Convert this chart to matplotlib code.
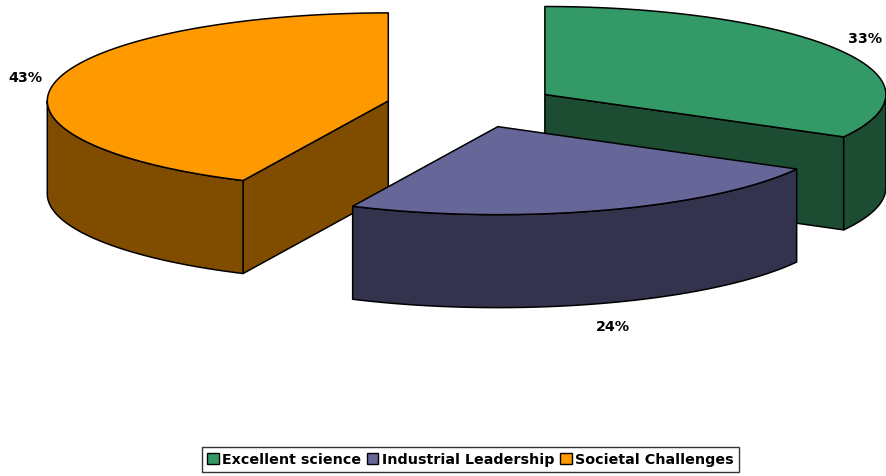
import numpy as np
import matplotlib
matplotlib.use("Agg")
import matplotlib.pyplot as plt
from matplotlib.patches import Polygon, Patch

# Podział budżetu (%)
categories = ["Excellent science", "Industrial Leadership", "Societal Challenges"]
shares = [33, 24, 43]
top_colors = ["#339966", "#666699", "#FF9900"]
side_colors = ["#1C4D33", "#33334D", "#804D00"]

# Geometria "3D" tortu w pikselach
W, H = 887, 477
cx, cy = 471.5, 106.7
rx, ry = 341.0, 88.0
depth = 93.0
explode = 0.25


def pt(x0, y0, ang, r=1.0):
    a = np.radians(ang)
    return x0 + r * rx * np.cos(a), y0 - r * ry * np.sin(a)


fig = plt.figure(figsize=(W / 100, H / 100), dpi=100)
ax = fig.add_axes([0, 0, 1, 1])
ax.set_xlim(0, W)
ax.set_ylim(H, 0)
ax.axis("off")

# kąty wycinków: start na 90 stopniach, zgodnie z ruchem wskazówek zegara
slices = []
start = 90.0
for i, s in enumerate(shares):
    span = s / sum(shares) * 360.0
    a1, a0 = start, start - span
    mid = (a0 + a1) / 2
    ox, oy = pt(cx, cy, mid, explode)
    slices.append((i, a0, a1, mid, ox, oy))
    start = a0

# najpierw tylne wycinki, potem przednie
order = sorted(slices, key=lambda t: -np.sin(np.radians(t[3])))

lw = 1.1
for i, a0, a1, mid, ox, oy in order:
    # ściany promieniowe widoczne od przodu
    for ang, nrm in ((a0, a0 - 90), (a1, a1 + 90)):
        if np.sin(np.radians(nrm)) < -1e-6:
            ex, ey = pt(ox, oy, ang)
            face = [(ox, oy), (ex, ey), (ex, ey + depth), (ox, oy + depth)]
            ax.add_patch(Polygon(face, closed=True, fc=side_colors[i],
                                 ec="black", lw=lw, joinstyle="round"))
    # zewnętrzna ściana (tylko przednia połowa)
    f0, f1 = max(a0, -180.0), min(a1, 0.0)
    if a0 > 0:
        f0, f1 = max(a0, 180.0), min(a1, 360.0)
    if f1 > f0:
        t = np.linspace(f0, f1, 80)
        xs, ys = pt(ox, oy, t)
        wall = list(zip(xs, ys)) + list(zip(xs[::-1], ys[::-1] + depth))
        ax.add_patch(Polygon(wall, closed=True, fc=side_colors[i],
                             ec="black", lw=lw, joinstyle="round"))
    # górna powierzchnia
    t = np.linspace(a0, a1, 200)
    xs, ys = pt(ox, oy, t)
    top = [(ox, oy)] + list(zip(xs, ys))
    ax.add_patch(Polygon(top, closed=True, fc=top_colors[i],
                         ec="black", lw=lw, joinstyle="round"))

# etykiety procentowe
for i, a0, a1, mid, ox, oy in slices:
    m = np.radians(mid)
    lx = ox + 1.09 * rx * np.cos(m)
    ly = oy - 1.27 * ry * np.sin(m)
    if np.sin(m) < 0:
        ly += depth
    ax.text(lx, ly, f"{shares[i]}%", ha="center", va="center",
            fontsize=10.3, fontweight="bold", family="DejaVu Sans")

handles = [Patch(fc=top_colors[i], ec="black", lw=1, label=categories[i])
           for i in range(len(categories))]
leg = fig.legend(handles=handles, loc="center", ncol=3,
                 bbox_to_anchor=(470.5 / W, 1 - 460.5 / H),
                 frameon=True, fancybox=False, edgecolor="black",
                 prop={"weight": "bold", "size": 10.3, "family": "DejaVu Sans"},
                 handlelength=0.8, handleheight=0.8, handletextpad=0.25,
                 columnspacing=0.4, borderpad=0.35, borderaxespad=0)
leg.get_frame().set_linewidth(1.0)

fig.savefig("out.png", dpi=100)
